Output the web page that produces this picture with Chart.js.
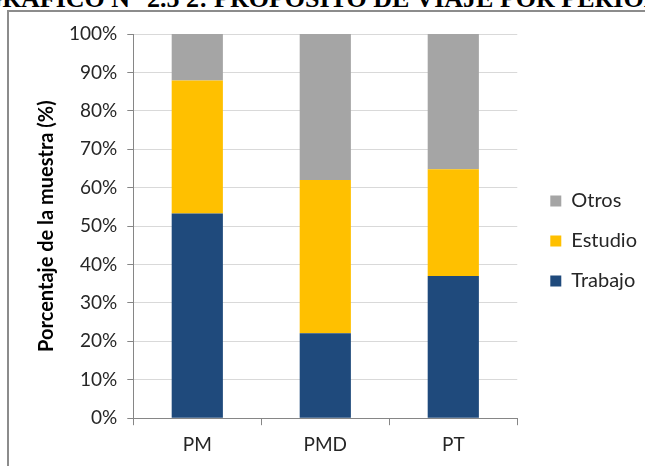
<!DOCTYPE html>
<html>
<head>
<meta charset="utf-8">
<script src="https://cdn.jsdelivr.net/npm/chart.js@4"></script>
<style>
  html, body { margin: 0; padding: 0; background: #fff; overflow: hidden; }
  #page { position: relative; width: 645px; height: 466px; overflow: hidden; }
  #title {
    position: absolute; left: -18px; top: -16px; white-space: nowrap;
    font: bold 26px "Liberation Serif", serif; color: #000;
  }
  #frame {
    position: absolute; left: 7px; top: 10px; width: 700px; height: 500px;
    border: 2px solid #8c8c8c; box-sizing: border-box;
  }
  #wrap { position: absolute; left: 0; top: 0; width: 645px; height: 466px; }
</style>
</head>
<body>
<div id="page">
  <div id="title">GRÁFICO N° 2.5 2: PROPÓSITO DE VIAJE POR PERIODO</div>
  <div id="frame"></div>
  <div id="wrap"><canvas id="chart"></canvas></div>
</div>
<script>
// periodos
const categories = ["PM", "PMD", "PT"];
// porcentajes por propósito
const trabajo = [53.3, 22.1, 37.0];
const estudio = [34.6, 39.9, 27.8];
const otros = [12.1, 38.0, 35.2];

const yTicks = [0, 10, 20, 30, 40, 50, 60, 70, 80, 90, 100];

const font = "Lato";

// nudge the legend a bit (right, up) like the Excel original
const legendShift = {
  id: "legendShift",
  afterLayout(chart) {
    const lg = chart.legend;
    lg.left += 13; lg.right += 13;
    lg.top -= 8; lg.bottom -= 8;
  }
};

new Chart(document.getElementById("chart"), {
  type: "bar",
  data: {
    labels: categories,
    datasets: [
      { label: "Trabajo", data: trabajo, backgroundColor: "#1f4a7c" },
      { label: "Estudio", data: estudio, backgroundColor: "#ffc000" },
      { label: "Otros", data: otros, backgroundColor: "#a5a5a5" }
    ]
  },
  options: {
    responsive: true,
    maintainAspectRatio: false,
    animation: false,
    datasets: { bar: { categoryPercentage: 1, barPercentage: 0.4 } },
    layout: { padding: { left: 29, top: 34, bottom: 2, right: 11 } },
    plugins: {
      tooltip: { enabled: false },
      legend: {
        position: "right",
        reverse: true,
        labels: {
          boxWidth: 11, boxHeight: 11, padding: 20,
          color: "#262626",
          font: { family: font, size: 20 }
        }
      }
    },
    scales: {
      x: {
        stacked: true,
        grid: { offset: true, drawOnChartArea: false, tickLength: 7, color: "#868686" },
        border: { color: "#868686" },
        ticks: { color: "#262626", font: { family: font, size: 19 }, padding: 8 }
      },
      y: {
        stacked: true,
        min: 0, max: 100,
        afterBuildTicks: axis => { axis.ticks = yTicks.map(v => ({ value: v })); },
        grid: { color: "#d9d9d9", tickColor: "#868686", tickLength: 6 },
        border: { color: "#868686" },
        ticks: {
          color: "#262626", font: { family: font, size: 19 }, padding: 10,
          callback: v => v + "%"
        },
        title: {
          display: true, text: "Porcentaje de la muestra (%)",
          color: "#000", font: { family: font, size: 20, weight: "bold" },
          padding: { top: 6, bottom: 0 }
        }
      }
    }
  },
  plugins: [legendShift]
});
</script>
</body>
</html>
